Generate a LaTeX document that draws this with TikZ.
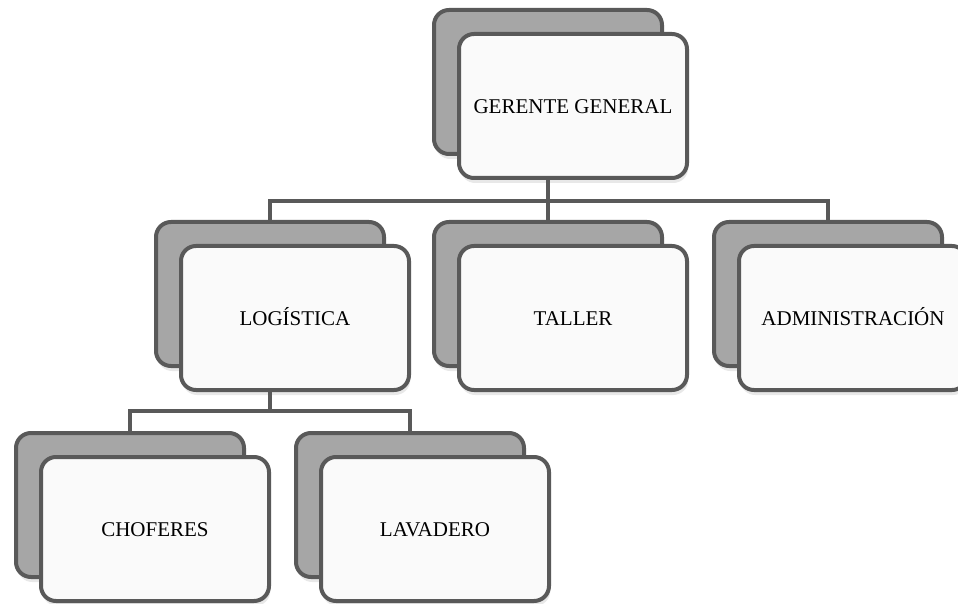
\documentclass[tikz,border=0pt]{standalone}
\usepackage{fontspec}
\setmainfont{Liberation Serif}
\usepackage{tikz}
\usetikzlibrary{shadows, positioning, calc}
\definecolor{boxline}{RGB}{89,89,89}
\definecolor{backgray}{RGB}{166,166,166}
\definecolor{frontwhite}{RGB}{250,250,250}
\tikzset{
    x=0.5pt, y=-0.5pt,
    backbox/.style ={rectangle, rounded corners=7.5pt, draw=boxline, line width=2pt, fill=backgray, minimum width=114pt, minimum height=72pt,
                     drop shadow={shadow xshift=0.6pt, shadow yshift=-2.5pt, opacity=0.18}}, % the grey card behind
    frontbox/.style={rectangle, rounded corners=7.5pt, draw=boxline, line width=2pt, fill=frontwhite, minimum width=114pt, minimum height=72pt,
                     text height=0.96em, text depth=0.22em,
                     font=\fontsize{10.5}{12}\selectfont, drop shadow={shadow xshift=0.6pt, shadow yshift=-2.5pt, opacity=0.18}}, % the white card with the text
    conn/.style = {draw=boxline, line width=2pt}
}
\begin{document}
\begin{tikzpicture}
    \clip (0,0) rectangle (958,604);
    \useasboundingbox (0,0) rectangle (958,604);
    % back cards, front cards are shifted 25 right and 24 down
    \node[backbox] (gerenteb) at (548,82) {};
    \node[frontbox] (gerente) at ([shift={(25,24)}]gerenteb) {GERENTE GENERAL};

    \node[backbox] (logisticab) at (270,294) {};
    \node[frontbox] (logistica) at ([shift={(25,24)}]logisticab) {LOGÍSTICA};
    \node[backbox] (tallerb) at (548,294) {};
    \node[frontbox] (taller) at ([shift={(25,24)}]tallerb) {TALLER};
    \node[backbox] (adminb) at (828,294) {};
    \node[frontbox] (admin) at ([shift={(25,24)}]adminb) {ADMINISTRACIÓN};

    \node[backbox] (choferesb) at (130,505) {};
    \node[frontbox] (choferes) at ([shift={(25,24)}]choferesb) {CHOFERES};
    \node[backbox] (lavaderob) at (410,505) {};
    \node[frontbox] (lavadero) at ([shift={(25,24)}]lavaderob) {LAVADERO};

    % connectors
    \coordinate (bus1) at (548,201);
    \coordinate (bus2) at (270,411);
    \draw[conn] (gerenteb.south |- gerente.south) -- (tallerb.north);
    \draw[conn] (logisticab.north) |- (bus1) -| (adminb.north);
    \draw[conn] (logisticab.south |- logistica.south) -- (bus2);
    \draw[conn] (choferesb.north) |- (bus2) -| (lavaderob.north);
\end{tikzpicture}
\end{document}
